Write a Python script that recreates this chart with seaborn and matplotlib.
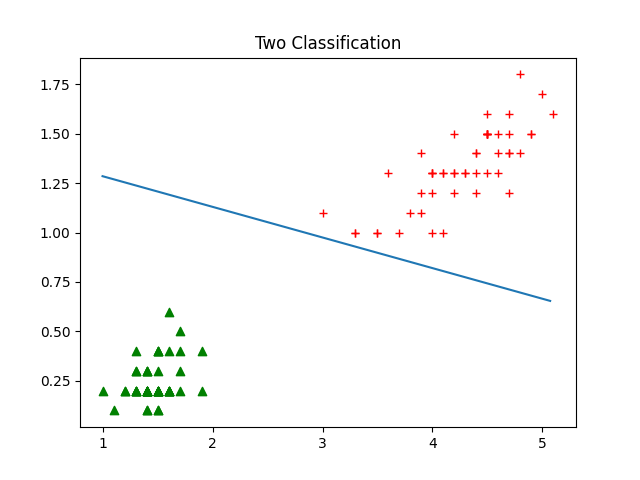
# Two classification : setosa vs versicolor (petal length / petal width)
import numpy as np
import pandas as pd
import seaborn as sns
import matplotlib
matplotlib.use("Agg")
import matplotlib.pyplot as plt

# --- data ---
setosa_len = [1.4, 1.4, 1.3, 1.5, 1.4, 1.7, 1.4, 1.5, 1.4, 1.5,
              1.5, 1.6, 1.4, 1.1, 1.2, 1.5, 1.3, 1.4, 1.7, 1.5,
              1.7, 1.5, 1.0, 1.7, 1.9, 1.6, 1.6, 1.5, 1.4, 1.6,
              1.6, 1.5, 1.5, 1.4, 1.5, 1.2, 1.3, 1.4, 1.3, 1.5,
              1.3, 1.3, 1.3, 1.6, 1.9, 1.4, 1.6, 1.4, 1.5, 1.4]
setosa_wid = [0.2, 0.2, 0.2, 0.2, 0.2, 0.4, 0.3, 0.2, 0.2, 0.1,
              0.2, 0.2, 0.1, 0.1, 0.2, 0.4, 0.4, 0.3, 0.3, 0.3,
              0.2, 0.4, 0.2, 0.5, 0.2, 0.2, 0.4, 0.2, 0.2, 0.2,
              0.2, 0.4, 0.1, 0.2, 0.2, 0.2, 0.2, 0.1, 0.2, 0.2,
              0.3, 0.3, 0.2, 0.6, 0.4, 0.3, 0.2, 0.2, 0.2, 0.2]

versi_len = [4.7, 4.5, 4.9, 4.0, 4.6, 4.5, 4.7, 3.3, 4.6, 3.9,
             3.5, 4.2, 4.0, 4.7, 3.6, 4.4, 4.5, 4.1, 4.5, 3.9,
             4.8, 4.0, 4.9, 4.7, 4.3, 4.4, 4.8, 5.0, 4.5, 3.5,
             3.8, 3.7, 3.9, 5.1, 4.5, 4.5, 4.7, 4.4, 4.1, 4.0,
             4.4, 4.6, 4.0, 3.3, 4.2, 4.2, 4.2, 4.3, 3.0, 4.1]
versi_wid = [1.4, 1.5, 1.5, 1.3, 1.5, 1.3, 1.6, 1.0, 1.3, 1.4,
             1.0, 1.5, 1.0, 1.4, 1.3, 1.4, 1.5, 1.0, 1.5, 1.1,
             1.8, 1.3, 1.5, 1.2, 1.3, 1.4, 1.4, 1.7, 1.5, 1.0,
             1.1, 1.0, 1.2, 1.6, 1.5, 1.6, 1.5, 1.3, 1.3, 1.3,
             1.2, 1.4, 1.2, 1.0, 1.3, 1.2, 1.3, 1.3, 1.1, 1.3]

# separating line
line_x = [1.0, 5.07]
line_y = [1.285, 0.654]

fig, ax = plt.subplots(figsize=(6.4, 4.8), dpi=100)

sns.scatterplot(x=setosa_len, y=setosa_wid, marker="^", color="g",
                edgecolor="g", s=36, linewidth=1, ax=ax)
sns.scatterplot(x=versi_len, y=versi_wid, marker="+", color="r",
                s=36, linewidth=1, ax=ax)
sns.lineplot(x=line_x, y=line_y, ax=ax)

ax.set_title("Two Classification")
plt.savefig("out.png", dpi=100)
